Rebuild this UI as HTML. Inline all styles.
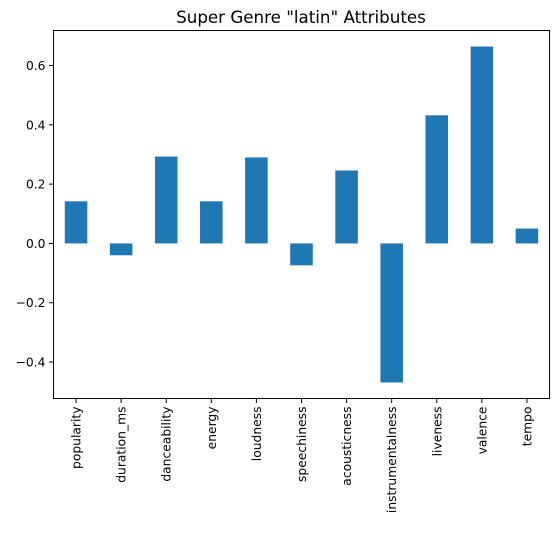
<!DOCTYPE html>
<html><head><meta charset="utf-8">
<style>
body{margin:0;background:#fff;font-family:"Liberation Sans","DejaVu Sans",sans-serif;}
svg text{font-family:"DejaVu Sans","Liberation Sans",sans-serif;}
</style></head>
<body>
<svg id="chart" width="559" height="539" xmlns="http://www.w3.org/2000/svg">
<text x="301" y="23" font-size="16.7" text-anchor="middle">Super Genre "latin" Attributes</text>
<g id="bars"></g>
<g id="yaxis"></g>
<g id="xaxis"></g>
<rect x="53.5" y="30.5" width="496" height="368" fill="none" stroke="#000" stroke-width="1"/>
</svg>
<script>
const categories=["popularity","duration_ms","danceability","energy","loudness","speechiness","acousticness","instrumentalness","liveness","valence","tempo"];
const values=[0.142,-0.04,0.293,0.142,0.29,-0.074,0.246,-0.469,0.432,0.664,0.05];
const yTicks=[-0.4,-0.2,0.0,0.2,0.4,0.6];
const yTickLabels=["\u22120.4","\u22120.2","0.0","0.2","0.4","0.6"];
const L=53.5,R=549.5,T=30.5,B=398.5,yMin=-0.523,yMax=0.718;
const ns="http://www.w3.org/2000/svg";
function y(v){return B-(v-yMin)/(yMax-yMin)*(B-T);}
const step=(R-L)/categories.length;
function xc(i){return L+step*(i+0.5);}
function mk(tag,attrs,parent){const e=document.createElementNS(ns,tag);for(const k in attrs)e.setAttribute(k,attrs[k]);parent.appendChild(e);return e;}
const gb=document.getElementById('bars'),gy=document.getElementById('yaxis'),gx=document.getElementById('xaxis');
values.forEach((v,i)=>{
  const w=step*0.5;
  const r=mk('rect',{x:xc(i)-w/2,y:Math.min(y(v),y(0)),width:w,height:Math.abs(y(v)-y(0)),fill:'#1f77b4'},gb);
  
  
});
yTicks.forEach((t,i)=>{
  const l=mk('line',{x1:L-4.5,x2:L,y1:y(t),y2:y(t),stroke:'#000'},gy);
  
  
  const tx=mk('text',{x:L-8,y:y(t)+4.5,'font-size':12.3,'text-anchor':'end'},gy);
  tx.textContent=yTickLabels[i];
  
  
});
categories.forEach((c,i)=>{
  const l=mk('line',{x1:xc(i),x2:xc(i),y1:B,y2:B+4.5,stroke:'#000'},gx);
  
  
  const tx=mk('text',{x:0,y:0,'font-size':12.3,'text-anchor':'end',transform:`translate(${xc(i)+4.5},${B+8}) rotate(-90)`},gx);
  tx.textContent=c;
  
  
});
</script>
</body></html>
